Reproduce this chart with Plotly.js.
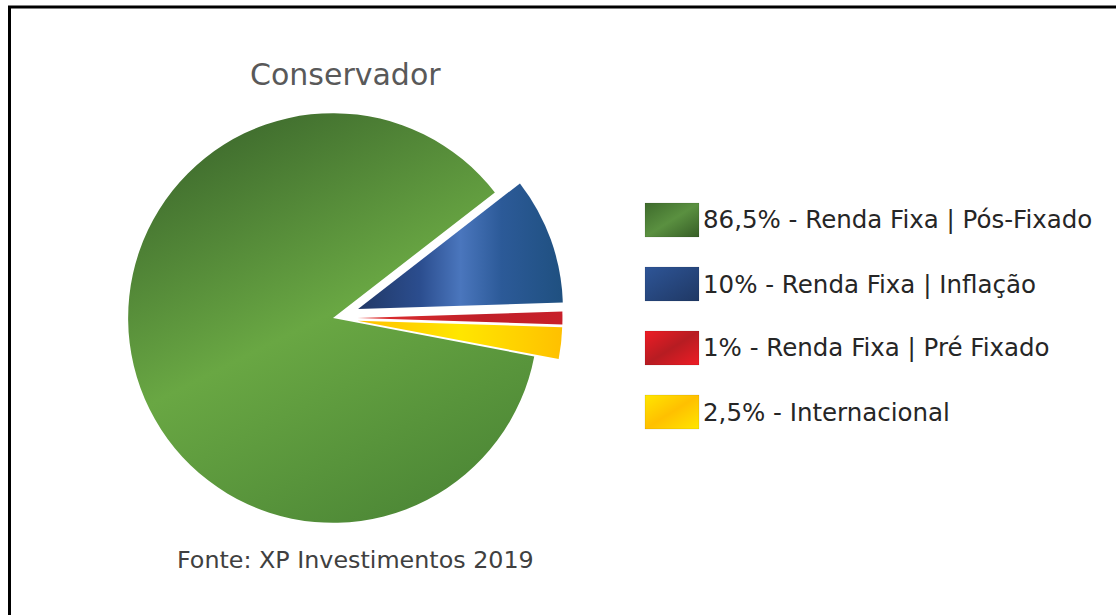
<!DOCTYPE html>
<html><head><meta charset="utf-8">
<script src="https://cdn.plot.ly/plotly-3.0.1.min.js"></script>
<style>html,body{margin:0;padding:0;background:#fff;overflow:hidden}</style>
</head><body>
<div id="chart" style="width:1116px;height:615px"></div>
<script>
const categories = ['Renda Fixa | Pós-Fixado', 'Renda Fixa | Inflação', 'Renda Fixa | Pré Fixado', 'Internacional'];
const shareLabels = ['86,5%', '10%', '1%', '2,5%'];
const values = [86.5, 10, 1, 2.5];
const pulls = [0, 0.13, 0.12, 0.12];
const sliceColors = ['#558f3b', '#2c4f8c', '#d0232a', '#ffcc00'];
const titleText = 'Conservador';
const sourceText = 'Fonte: XP Investimentos 2019';

const W = 1116, H = 615;
const px = x => x / W, py = y => 1 - y / H;
const FONT = 'DejaVu Sans';

const trace = {
  type: 'pie',
  values: values,
  labels: categories,
  sort: false,
  direction: 'clockwise',
  rotation: 100.8,
  pull: pulls,
  marker: { colors: sliceColors, line: { width: 0 } },
  textinfo: 'none',
  hoverinfo: 'label+percent',
  showlegend: false,
  domain: { x: [px(101.5), px(564.5)], y: [py(549.5), py(86.5)] }
};

const shapes = [];
const annotations = [];
categories.forEach((c, i) => {
  const yc = 220 + 64 * i;
  shapes.push({ type: 'rect', xref: 'paper', yref: 'paper', layer: 'above',
    x0: px(645), x1: px(699), y0: py(yc - 17), y1: py(yc + 17),
    fillcolor: sliceColors[i], line: { color: 'rgba(0,0,0,0.08)', width: 1 } });
  annotations.push({ xref: 'paper', yref: 'paper', x: px(701), y: py(yc), xanchor: 'left', yanchor: 'middle',
    showarrow: false, text: shareLabels[i] + ' - ' + c,
    font: { family: FONT, size: 24.5, color: '#262626' } });
});
shapes.push({ type: 'line', xref: 'paper', yref: 'paper', layer: 'above', x0: px(8), x1: 1, y0: py(7), y1: py(7), line: { color: '#000', width: 3 } });
shapes.push({ type: 'line', xref: 'paper', yref: 'paper', layer: 'above', x0: px(9.5), x1: px(9.5), y0: py(6), y1: 0, line: { color: '#000', width: 3 } });

annotations.push({ xref: 'paper', yref: 'paper', x: px(345), y: py(74), xanchor: 'center', yanchor: 'middle',
  showarrow: false, text: titleText, font: { family: FONT, size: 30, color: '#595959' } });
annotations.push({ xref: 'paper', yref: 'paper', x: px(355), y: py(560), xanchor: 'center', yanchor: 'middle',
  showarrow: false, text: sourceText, font: { family: FONT, size: 23.8, color: '#404040' } });

const layout = {
  width: W, height: H,
  margin: { l: 0, r: 0, t: 0, b: 0 },
  paper_bgcolor: '#fff',
  showlegend: false,
  shapes: shapes,
  annotations: annotations
};

Plotly.newPlot('chart', [trace], layout, { displayModeBar: false, staticPlot: true }).then(gd => {
  const NS = 'http://www.w3.org/2000/svg';
  const svg = gd.querySelector('svg.main-svg');
  let defs = svg.querySelector('defs');
  if (!defs) { defs = document.createElementNS(NS, 'defs'); svg.insertBefore(defs, svg.firstChild); }
  function grad(id, x1, y1, x2, y2, stops) {
    const g = document.createElementNS(NS, 'linearGradient');
    g.setAttribute('id', id);
    g.setAttribute('x1', x1); g.setAttribute('y1', y1); g.setAttribute('x2', x2); g.setAttribute('y2', y2);
    stops.forEach(s => {
      const st = document.createElementNS(NS, 'stop');
      st.setAttribute('offset', s[0]); st.setAttribute('stop-color', s[1]);
      g.appendChild(st);
    });
    defs.appendChild(g);
  }
  grad('sg0', 0.1, 0, 0.6, 1, [[0, '#38622a'], [0.55, '#69a743'], [1, '#4f8a37']]);
  grad('sg1', 0, 0, 1, 0, [[0, '#213866'], [0.3, '#2b4d8e'], [0.5, '#4a76bd'], [0.7, '#2c5a98'], [1, '#1f5080']]);
  grad('sg2', 0, 0, 1, 0, [[0, '#e03030'], [0.6, '#c01f28'], [1, '#c8202a']]);
  grad('sg3', 0, 0, 1, 0, [[0, '#ffc000'], [0.5, '#ffe600'], [0.8, '#ffd000'], [1, '#ffc000']]);
  grad('lg0', 0, 0, 1, 1, [[0, '#3e6b2c'], [0.5, '#5a9040'], [1, '#365d26']]);
  grad('lg1', 0, 0, 1, 1, [[0, '#2e5597'], [1, '#1f3864']]);
  grad('lg2', 0, 0, 1, 1, [[0, '#ee1c25'], [0.5, '#b71c22'], [1, '#ee1c25']]);
  grad('lg3', 0, 0, 1, 1, [[0, '#ffe600'], [0.5, '#ffc000'], [1, '#ffe600']]);
  gd.querySelectorAll('.slice path.surface').forEach((p, i) => { p.style.fill = 'url(#sg' + i + ')'; });
  const boxes = gd.querySelectorAll('.layer-above .shapelayer path');
  for (let i = 0; i < categories.length && i < boxes.length; i++) boxes[i].style.fill = 'url(#lg' + i + ')';
});
</script>
</body></html>
